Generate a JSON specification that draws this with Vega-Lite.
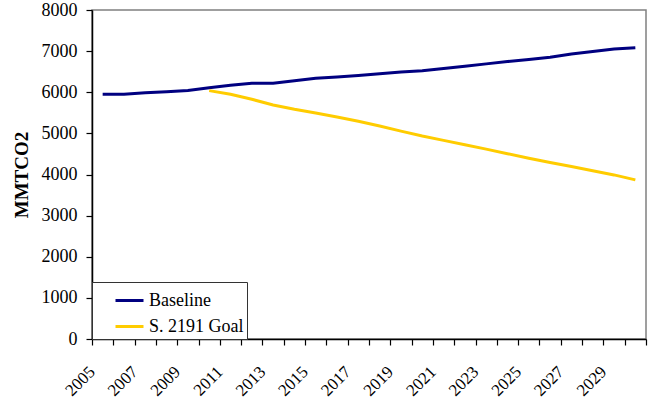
{
  "$schema": "https://vega.github.io/schema/vega-lite/v6.json",
  "autosize": "none",
  "width": 554,
  "height": 329,
  "padding": {"left": 92, "top": 10, "right": 2, "bottom": 61},
  "background": "white",
  "config": {
    "font": "Liberation Serif",
    "view": {"stroke": "#808080", "strokeWidth": 1.5}
  },
  "data": {
    "values": [
      {"year": 2005, "series": "Baseline", "value": 5950},
      {"year": 2006, "series": "Baseline", "value": 5950},
      {"year": 2007, "series": "Baseline", "value": 5985},
      {"year": 2008, "series": "Baseline", "value": 6010},
      {"year": 2009, "series": "Baseline", "value": 6040},
      {"year": 2010, "series": "Baseline", "value": 6110},
      {"year": 2011, "series": "Baseline", "value": 6170},
      {"year": 2012, "series": "Baseline", "value": 6220},
      {"year": 2013, "series": "Baseline", "value": 6220},
      {"year": 2014, "series": "Baseline", "value": 6280},
      {"year": 2015, "series": "Baseline", "value": 6340},
      {"year": 2016, "series": "Baseline", "value": 6370},
      {"year": 2017, "series": "Baseline", "value": 6410},
      {"year": 2018, "series": "Baseline", "value": 6450},
      {"year": 2019, "series": "Baseline", "value": 6495},
      {"year": 2020, "series": "Baseline", "value": 6520},
      {"year": 2021, "series": "Baseline", "value": 6575},
      {"year": 2022, "series": "Baseline", "value": 6630},
      {"year": 2023, "series": "Baseline", "value": 6690},
      {"year": 2024, "series": "Baseline", "value": 6745},
      {"year": 2025, "series": "Baseline", "value": 6795},
      {"year": 2026, "series": "Baseline", "value": 6850},
      {"year": 2027, "series": "Baseline", "value": 6930},
      {"year": 2028, "series": "Baseline", "value": 6990},
      {"year": 2029, "series": "Baseline", "value": 7050},
      {"year": 2030, "series": "Baseline", "value": 7080},
      {"year": 2010, "series": "S. 2191 Goal", "value": 6040},
      {"year": 2011, "series": "S. 2191 Goal", "value": 5950},
      {"year": 2012, "series": "S. 2191 Goal", "value": 5830},
      {"year": 2013, "series": "S. 2191 Goal", "value": 5690},
      {"year": 2014, "series": "S. 2191 Goal", "value": 5585},
      {"year": 2015, "series": "S. 2191 Goal", "value": 5495},
      {"year": 2016, "series": "S. 2191 Goal", "value": 5400},
      {"year": 2017, "series": "S. 2191 Goal", "value": 5295},
      {"year": 2018, "series": "S. 2191 Goal", "value": 5180},
      {"year": 2019, "series": "S. 2191 Goal", "value": 5055},
      {"year": 2020, "series": "S. 2191 Goal", "value": 4935},
      {"year": 2021, "series": "S. 2191 Goal", "value": 4830},
      {"year": 2022, "series": "S. 2191 Goal", "value": 4725},
      {"year": 2023, "series": "S. 2191 Goal", "value": 4617},
      {"year": 2024, "series": "S. 2191 Goal", "value": 4505},
      {"year": 2025, "series": "S. 2191 Goal", "value": 4395},
      {"year": 2026, "series": "S. 2191 Goal", "value": 4290},
      {"year": 2027, "series": "S. 2191 Goal", "value": 4195},
      {"year": 2028, "series": "S. 2191 Goal", "value": 4090},
      {"year": 2029, "series": "S. 2191 Goal", "value": 3990},
      {"year": 2030, "series": "S. 2191 Goal", "value": 3870}
    ]
  },
  "mark": {"type": "line", "strokeWidth": 3},
  "encoding": {
    "x": {
      "field": "year",
      "type": "quantitative",
      "scale": {"domain": [2004.5, 2030.5], "nice": false, "zero": false},
      "axis": {
        "title": null,
        "grid": false,
        "values": [2004.5, 2005.5, 2006.5, 2007.5, 2008.5, 2009.5, 2010.5, 2011.5, 2012.5, 2013.5, 2014.5, 2015.5, 2016.5, 2017.5, 2018.5, 2019.5, 2020.5, 2021.5, 2022.5, 2023.5, 2024.5, 2025.5, 2026.5, 2027.5, 2028.5, 2029.5, 2030.5],
        "labelExpr": "((datum.value + 0.5) % 2 == 1 && datum.value < 2030) ? format(datum.value + 0.5, 'd') : ''",
        "labelAngle": -45,
        "labelAlign": "right",
        "labelBaseline": "middle",
        "labelFontSize": 17,
        "labelColor": "black",
        "labelPadding": 24,
        "labelOverlap": false,
        "labelFlush": false,
        "tickColor": "black",
        "tickSize": 6,
        "tickWidth": 1.2,
        "domainColor": "black",
        "domainWidth": 1.5
      }
    },
    "y": {
      "field": "value",
      "type": "quantitative",
      "scale": {"domain": [0, 8000], "nice": false},
      "axis": {
        "title": "MMTCO2",
        "titleFontSize": 19,
        "titleFontWeight": "bold",
        "titleColor": "black",
        "titlePadding": 10,
        "grid": false,
        "values": [0, 1000, 2000, 3000, 4000, 5000, 6000, 7000, 8000],
        "format": "d",
        "labelFontSize": 18,
        "labelColor": "black",
        "labelPadding": 9,
        "tickColor": "black",
        "tickSize": 6,
        "tickWidth": 1.2,
        "domainColor": "black",
        "domainWidth": 1.5
      }
    },
    "color": {
      "field": "series",
      "type": "nominal",
      "scale": {"domain": ["Baseline", "S. 2191 Goal"], "range": ["#000080", "#FFCC00"]},
      "legend": {
        "title": null,
        "orient": "bottom-left",
        "offset": 0,
        "padding": 3,
        "rowPadding": 1,
        "symbolType": "stroke",
        "symbolSize": 784,
        "symbolStrokeWidth": 3,
        "symbolOffset": 19,
        "labelOffset": 4,
        "labelFontSize": 18,
        "labelColor": "black",
        "strokeColor": "#333333",
        "fillColor": "white"
      }
    }
  }
}
